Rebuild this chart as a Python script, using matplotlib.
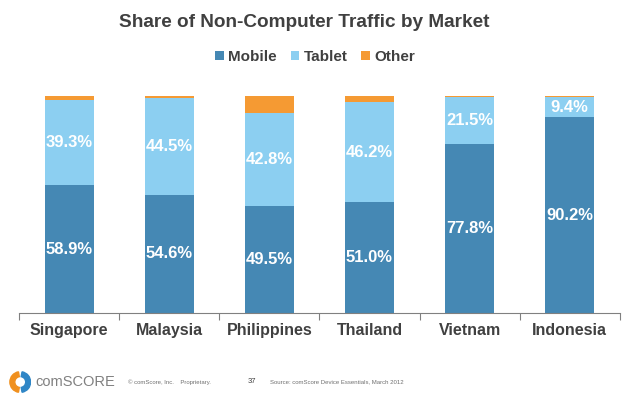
import matplotlib
matplotlib.use("Agg")
import matplotlib.pyplot as plt
import numpy as np
from matplotlib.patches import Wedge

plt.rcParams['font.family'] = ['Liberation Sans', 'DejaVu Sans']

markets = ["Singapore", "Malaysia", "Philippines", "Thailand", "Vietnam", "Indonesia"]
mobile = [58.9, 54.6, 49.5, 51.0, 77.8, 90.2]
tablet = [39.3, 44.5, 42.8, 46.2, 21.5, 9.4]
other = [1.8, 0.9, 7.7, 2.8, 0.7, 0.4]

c_mobile = "#4588b4"
c_tablet = "#8ccff1"
c_other = "#f59a33"
dark = "#404040"

fig = plt.figure(figsize=(6.23, 3.99), dpi=100)
ax = fig.add_axes([0.0305, 0.2155, 0.9645, 0.544])

x = np.arange(len(markets))
mobile = np.array(mobile)
tablet = np.array(tablet)
other = np.array(other)

ax.bar(x, mobile, 0.49, color=c_mobile, label="Mobile")
ax.bar(x, tablet, 0.49, bottom=mobile, color=c_tablet, label="Tablet")
ax.bar(x, other, 0.49, bottom=mobile + tablet, color=c_other, label="Other")

for i in range(len(markets)):
    ax.text(x[i], mobile[i] / 2, f"{mobile[i]:.1f}%", ha="center", va="center",
            color="white", fontsize=12, fontweight="bold")
    ax.text(x[i], mobile[i] + tablet[i] / 2, f"{tablet[i]:.1f}%", ha="center",
            va="center", color="white", fontsize=12, fontweight="bold")

ax.set_xlim(-0.5, len(markets) - 0.5)
ax.set_ylim(0, 100)
for s in ["top", "right", "left"]:
    ax.spines[s].set_visible(False)
ax.spines["bottom"].set_color("#808080")
ax.set_yticks([])
ax.set_xticks(np.arange(-0.5, len(markets), 1.0))
ax.set_xticklabels([])
ax.tick_params(axis="x", length=5, color="#808080", direction="out")
ax.set_xticks(x, minor=True)
ax.set_xticklabels(markets, minor=True, fontsize=11.5, fontweight="bold", color=dark)
ax.tick_params(axis="x", which="minor", length=0, pad=7)

fig.text(0.488, 0.944, "Share of Non-Computer Traffic by Market", ha="center",
         va="center", fontsize=13.7, fontweight="bold", color=dark)

leg = fig.legend(loc="center", bbox_to_anchor=(0.506, 0.857), ncol=3, frameon=False,
                 handlelength=0.55, handleheight=0.55, handletextpad=0.3,
                 columnspacing=0.9, prop={"size": 11, "weight": "bold"})
for t in leg.get_texts():
    t.set_color(dark)

# footer
lax = fig.add_axes([0.015, 0.015, 0.035, 0.055])
lax.set_xlim(-1, 1)
lax.set_ylim(-1, 1)
lax.set_aspect("equal")
lax.axis("off")
lax.add_patch(Wedge((0, 0), 0.95, 100, 260, width=0.45, color="#f0901e"))
lax.add_patch(Wedge((0, 0), 0.95, -80, 80, width=0.45, color="#2f86c6"))

fig.text(0.056, 0.043, "comSCORE", ha="left", va="center", fontsize=10.5,
         color="#808080")
fig.text(0.205, 0.043, "\u00a9 comScore, Inc.    Proprietary.", ha="left",
         va="center", fontsize=4.3, color="#707070")
fig.text(0.398, 0.043, "37", ha="left", va="center", fontsize=5.5, color="#404040")
fig.text(0.433, 0.043, "Source: comScore Device Essentials, March 2012", ha="left",
         va="center", fontsize=4.3, color="#707070")

fig.savefig("out.png", dpi=100)
